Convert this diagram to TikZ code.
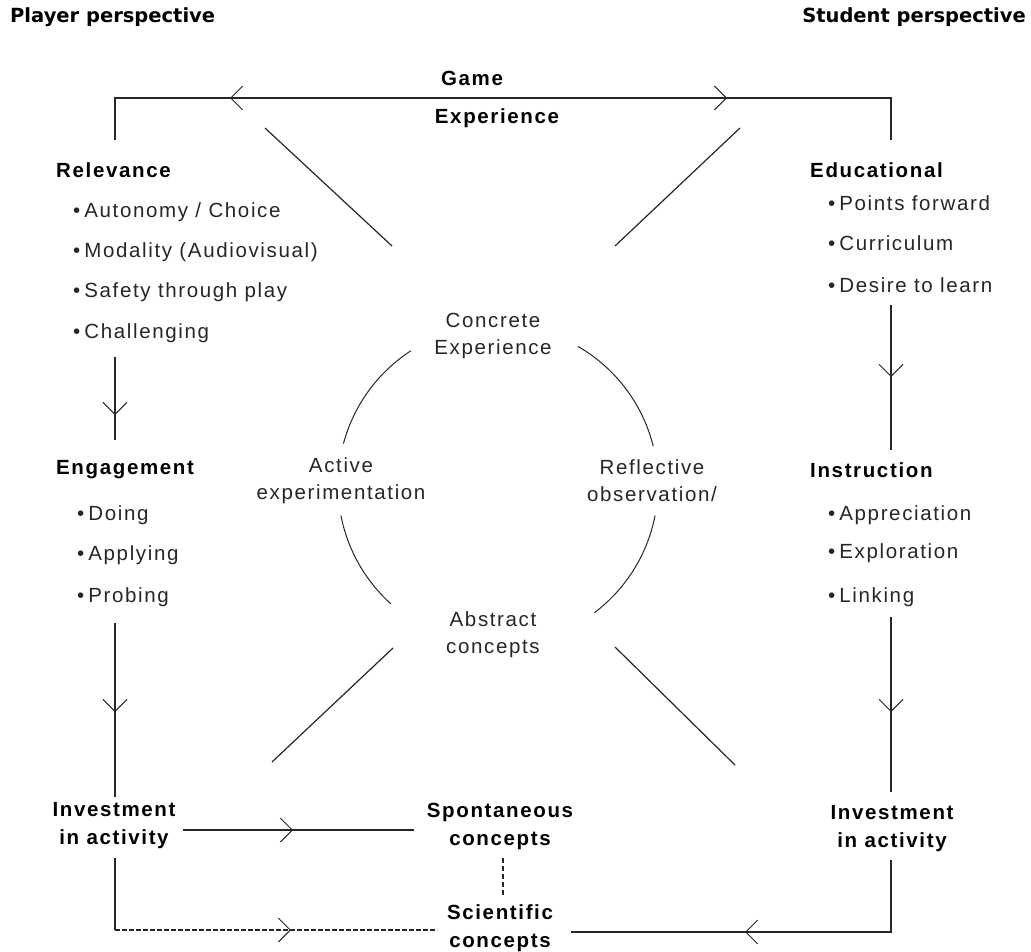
\documentclass[tikz,border=0pt]{standalone}
\usepackage{fontspec}
\setmainfont{Liberation Sans}[LetterSpace=8]
\newfontfamily\hdrfont{DejaVu Sans}
\usetikzlibrary{arrows.meta,decorations.markings}
\tikzset{
  chev/.style={decoration={markings,mark=at position #1 with {\arrow{Straight Barb[length=12pt,width=24pt,line width=1pt]}}},postaction=decorate},
  ln/.style={line width=1.2pt, draw=black!85},
  body/.style={inner sep=0pt, font=\fontsize{20.5}{27}\selectfont, text=black!85, align=center},
  bold/.style={inner sep=0pt, font=\bfseries\fontsize{20.5}{28}\selectfont, align=center},
  hdr/.style={inner sep=0pt, font=\hdrfont\bfseries\fontsize{19.5}{22}\selectfont},
}
\begin{document}
\begin{tikzpicture}[x=1pt,y=1pt]
\useasboundingbox (0,0) rectangle (1031,-952);
% headers
\node[hdr,anchor=west] (pp) at (10,-17) {Player perspective};
\node[hdr,anchor=east] (sp) at (1026,-17) {Student perspective};
\node[bold] (game) at (472,-78) {Game};
\node[bold] (exp) at (497,-118) {Experience};
% left column
\node[bold,anchor=west] (rel) at (56,-170) {Relevance};
\node[body,anchor=west] (r1) at (73,-212) {•\hspace{4pt}Autonomy / Choice};
\node[body,anchor=west] (r2) at (73,-252) {•\hspace{4pt}Modality (Audiovisual)};
\node[body,anchor=west] (r3) at (73,-292) {•\hspace{4pt}Safety through play};
\node[body,anchor=west] (r4) at (73,-333) {•\hspace{4pt}Challenging};
\node[bold,anchor=west] (eng) at (56,-470) {Engagement};
\node[body,anchor=west] (e1) at (77,-515) {•\hspace{4pt}Doing};
\node[body,anchor=west] (e2) at (77,-555) {•\hspace{4pt}Applying};
\node[body,anchor=west] (e3) at (77,-597) {•\hspace{4pt}Probing};
\node[bold] (invL) at (114,-826) {Investment\\in activity};
% right column
\node[bold,anchor=west] (edu) at (810,-170) {Educational};
\node[body,anchor=west] (d1) at (828,-203) {•\hspace{4pt}Points forward};
\node[body,anchor=west] (d2) at (828,-243) {•\hspace{4pt}Curriculum};
\node[body,anchor=west] (d3) at (828,-285) {•\hspace{4pt}Desire to learn};
\node[bold,anchor=west] (ins) at (810,-470) {Instruction};
\node[body,anchor=west] (i1) at (828,-515) {•\hspace{4pt}Appreciation};
\node[body,anchor=west] (i2) at (828,-553) {•\hspace{4pt}Exploration};
\node[body,anchor=west] (i3) at (828,-597) {•\hspace{4pt}Linking};
\node[bold] (invR) at (892,-829) {Investment\\in activity};
% middle
\node[bold] (spon) at (500,-826) {Spontaneous\\concepts};
\node[bold] (sci) at (500,-928) {Scientific\\concepts};
\node[body] (ce) at (493,-336) {Concrete\\Experience};
\node[body] (ae) at (341,-481) {Active\\experimentation};
\node[body] (ro) at (652,-481) {Reflective\\observation/};
\node[body] (ac) at (493,-635) {Abstract\\concepts};
% coordinates
\coordinate (c) at (498,-485);
\coordinate (tm) at (472,-98);
\coordinate (tl) at (115,-98);
\coordinate (tr) at (891,-98);
\coordinate (tlb) at (115,-140);
\coordinate (trb) at (891,-140);
\coordinate (l1a) at (115,-357);
\coordinate (l1b) at (115,-440);
\coordinate (l2a) at (115,-623);
\coordinate (l2b) at (115,-797);
\coordinate (r1a) at (891,-305);
\coordinate (r1b) at (891,-450);
\coordinate (r2a) at (891,-617);
\coordinate (r2b) at (891,-792);
\coordinate (hL) at (183,-830);
\coordinate (hR) at (414,-830);
\coordinate (bLa) at (115,-858);
\coordinate (bLc) at (115,-930);
\coordinate (bLe) at (437,-930);
\coordinate (bRa) at (891,-860);
\coordinate (bRc) at (891,-932);
\coordinate (bRe) at (571,-932);
\coordinate (dva) at (503,-858);
\coordinate (dvb) at (503,-895);
\coordinate (dg1a) at (265,-128);
\coordinate (dg1b) at (392,-246);
\coordinate (dg2a) at (740,-128);
\coordinate (dg2b) at (615,-246);
\coordinate (dg3a) at (393,-648);
\coordinate (dg3b) at (272,-762);
\coordinate (dg4a) at (615,-647);
\coordinate (dg4b) at (735,-765);
% top frame
\draw[ln,chev=242pt] (tm) -- (tl) -- (tlb);
\draw[ln,chev=255pt] (tm) -- (tr) -- (trb);
% verticals
\draw[ln,chev=58pt] (l1a) -- (l1b);
\draw[ln,chev=89pt] (l2a) -- (l2b);
\draw[ln,chev=72pt] (r1a) -- (r1b);
\draw[ln,chev=95pt] (r2a) -- (r2b);
% bottom
\draw[ln,chev=110pt] (hL) -- (hR);
\draw[ln] (bLa) -- (bLc);
\draw[ln,dash pattern=on 5pt off 2pt,chev=176pt] (bLc) -- (bLe);
\draw[ln,chev=218pt] (bRa) -- (bRc) -- (bRe);
\draw[ln,dash pattern=on 5pt off 3pt] (dva) -- (dvb);
% diagonals
\draw[ln] (dg1a) -- (dg1b);
\draw[ln] (dg2a) -- (dg2b);
\draw[ln] (dg3a) -- (dg3b);
\draw[ln] (dg4a) -- (dg4b);
% arcs
\draw[ln,line width=1pt] (c) ++(123:160) arc[start angle=123,end angle=165,radius=160];
\draw[ln,line width=1pt] (c) ++(60:160) arc[start angle=60,end angle=14,radius=160];
\draw[ln,line width=1pt] (c) ++(191:160) arc[start angle=191,end angle=228,radius=160];
\draw[ln,line width=1pt] (c) ++(-11:160) arc[start angle=-11,end angle=-53,radius=160];
\end{tikzpicture}
\end{document}
